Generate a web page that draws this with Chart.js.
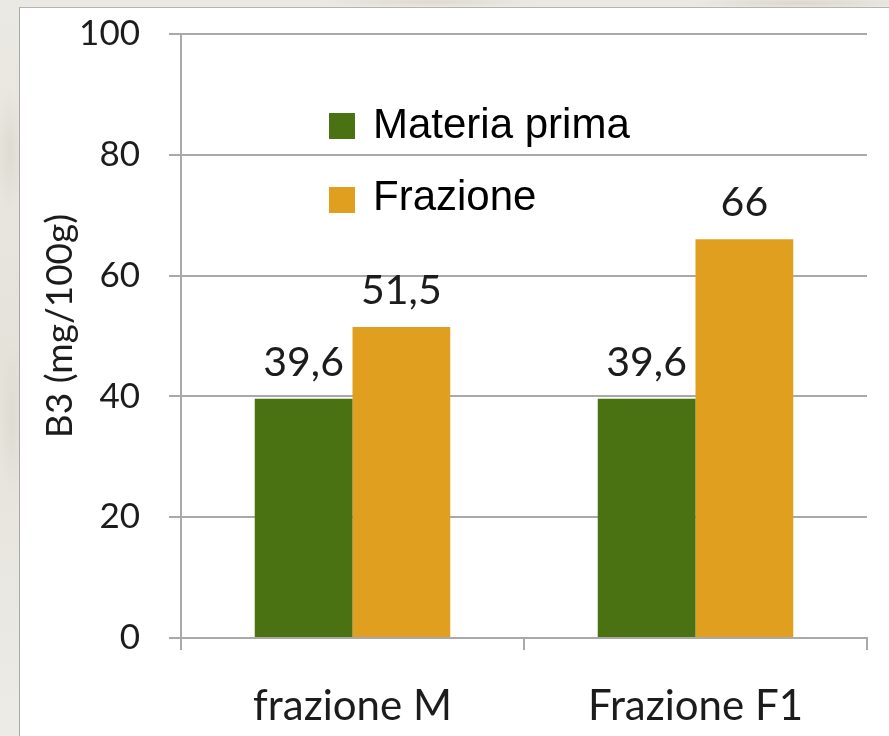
<!DOCTYPE html>
<html lang="it">
<head>
<meta charset="utf-8">
<title>B3 (mg/100g)</title>
<script src="https://cdn.jsdelivr.net/npm/chart.js@4.4.1/dist/chart.umd.min.js"></script>
<style>
  html, body { margin: 0; padding: 0; }
  body {
    width: 889px; height: 736px; overflow: hidden; position: relative;
    background:
      radial-gradient(ellipse 20px 90px at 10px 150px, rgba(205,198,184,0.35), rgba(205,198,184,0) 70%),
      radial-gradient(ellipse 18px 110px at 12px 420px, rgba(210,204,190,0.35), rgba(210,204,190,0) 70%),
      radial-gradient(ellipse 160px 8px at 430px 2px, rgba(208,200,186,0.45), rgba(208,200,186,0) 70%),
      radial-gradient(ellipse 160px 8px at 800px 3px, rgba(200,192,178,0.45), rgba(200,192,178,0) 70%),
      linear-gradient(180deg, #ebe9e3, #e5e2da 50%, #ecebe6);
  }
  #panel {
    position: absolute; left: 19px; top: 7px; right: 0; bottom: 0;
    background: #ffffff;
    border-left: 1px solid #a9a9a9;
    border-top: 1px solid #b4b4b4;
  }
  #wrap { position: absolute; left: 0; top: 0; width: 889px; height: 736px; }
</style>
</head>
<body>
<div id="panel"></div>
<div id="wrap"><canvas id="chart" width="889" height="736"></canvas></div>
<script>
// Categories, series and axis ticks
const categories = ['frazione M', 'Frazione F1'];
const seriesNames = ['Materia prima', 'Frazione'];
const materiaPrima = [39.6, 39.6];
const frazione = [51.5, 66];
const yTicks = [0, 20, 40, 60, 80, 100];
const yTitle = 'B3 (mg/100g)';

const colors = ['#4a7212', '#e19f20'];
const textColor = '#1c1c1c';

// Numbers are written with the Italian decimal comma
const fmt = v => String(v).replace('.', ',');

// Value labels above each bar
const valueLabels = {
  id: 'valueLabels',
  afterDatasetsDraw(chart) {
    const { ctx } = chart;
    ctx.save();
    ctx.font = '41px Lato';
    ctx.fillStyle = textColor;
    ctx.textAlign = 'center';
    ctx.textBaseline = 'alphabetic';
    chart.data.datasets.forEach((ds, i) => {
      chart.getDatasetMeta(i).data.forEach((bar, j) => {
        ctx.fillText(fmt(ds.data[j]), bar.x, bar.y - 23);
      });
    });
    ctx.restore();
  }
};

// Vertical axis title, set a little above the middle of the plot
const axisTitle = {
  id: 'axisTitle',
  afterDraw(chart) {
    const { ctx, chartArea } = chart;
    ctx.save();
    ctx.translate(60, (chartArea.top + chartArea.bottom) / 2 - 10);
    ctx.rotate(-Math.PI / 2);
    ctx.font = '37px Lato';
    ctx.fillStyle = textColor;
    ctx.textAlign = 'center';
    ctx.textBaseline = 'middle';
    ctx.fillText(yTitle, 0, 0);
    ctx.restore();
  }
};

// Legend drawn inside the plot area, one row per series
const innerLegend = {
  id: 'innerLegend',
  afterDraw(chart) {
    const { ctx } = chart;
    const x0 = 329, y0 = 125, rowGap = 72, box = 26;
    ctx.save();
    ctx.font = '42px "Liberation Sans", Arial, sans-serif';
    ctx.textBaseline = 'alphabetic';
    ctx.textAlign = 'left';
    chart.data.datasets.forEach((ds, i) => {
      const cy = y0 + i * rowGap;
      ctx.fillStyle = ds.backgroundColor;
      ctx.fillRect(x0, cy - 12 + (i ? 2 : 0), box, box);
      ctx.fillStyle = '#000000';
      ctx.fillText(ds.label, x0 + 44, cy + 13);
    });
    ctx.restore();
  }
};

new Chart(document.getElementById('chart'), {
  type: 'bar',
  data: {
    labels: categories,
    datasets: [
      { label: seriesNames[0], data: materiaPrima, backgroundColor: colors[0] },
      { label: seriesNames[1], data: frazione, backgroundColor: colors[1] }
    ]
  },
  options: {
    responsive: false,
    animation: false,
    devicePixelRatio: 1,
    layout: { padding: { left: 0, top: 34, right: 22, bottom: 0 } },
    datasets: { bar: { barPercentage: 1, categoryPercentage: 0.57 } },
    plugins: { legend: { display: false }, tooltip: { enabled: false } },
    scales: {
      x: {
        grid: { offset: true, drawOnChartArea: false, drawTicks: true, tickLength: 12, color: '#a9a9a9', lineWidth: 2 },
        border: { display: true, color: '#a9a9a9', width: 2 },
        ticks: { font: { family: 'Lato', size: 42 }, color: textColor, padding: 31, maxRotation: 0 },
        afterFit(scale) { scale.height = 98; }
      },
      y: {
        min: 0, max: 100,
        afterBuildTicks(scale) { scale.ticks = yTicks.map(v => ({ value: v })); },
        grid: { color: '#a9a9a9', lineWidth: 2, tickLength: 12 },
        border: { display: true, color: '#a9a9a9', width: 2 },
        ticks: { font: { family: 'Lato', size: 35 }, color: textColor, padding: 29 },
        title: { display: false },
        afterFit(scale) {
          scale.width = 181;
          scale.paddingTop = 0;
          scale.paddingBottom = 0;
        }
      }
    }
  },
  plugins: [valueLabels, axisTitle, innerLegend]
});
</script>
</body>
</html>
